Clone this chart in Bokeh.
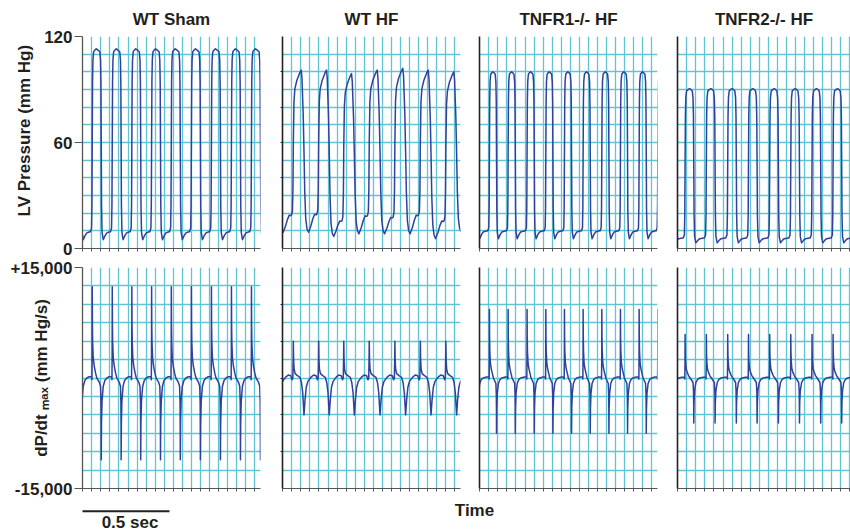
import numpy as np
from bokeh.plotting import figure
from bokeh.layouts import column, row
from bokeh.models import Range1d, FixedTicker, Label
from bokeh.embed import file_html
from bokeh.resources import INLINE

# ---------------- data ----------------
titles = ["WT Sham", "WT HF", "TNFR1-/- HF", "TNFR2-/- HF"]

# time (s) of each systolic pressure peak (first/last beat lie just outside the window)
sham_t = [-0.036, 0.079, 0.194, 0.306, 0.420, 0.533, 0.649, 0.764, 0.879, 0.994, 1.109]
hf_t = [-0.0385, 0.1075, 0.2529, 0.3966, 0.5443, 0.6914, 0.8374, 0.9845, 1.130]
r1_t = [-0.031, 0.0764, 0.1839, 0.2931, 0.4006, 0.5075, 0.6149, 0.7224, 0.8293, 0.9368, 1.0443]
r2_t = [-0.0517, 0.069, 0.1914, 0.3144, 0.4328, 0.5557, 0.6764, 0.7989, 0.9195, 1.0402]

# LV pressure (mm Hg): systolic peak, minimum after the beat, end-diastolic level before the beat
sham_sys = [113, 113, 113, 113, 113, 113, 113, 113, 113, 113, 113]
sham_min = [5, 5, 5, 5, 5, 5, 5, 5, 5, 5, 5]
sham_edp = [9.5, 9.5, 9.5, 9.5, 9.5, 9.5, 9.5, 9.5, 9.5, 9.5, 9.5]
hf_sys = [101, 101, 101, 99, 101, 102, 101, 100, 101]
hf_min = [9.2, 9.2, 6.8, 8.3, 8.3, 8.3, 5.6, 9.6, 9.0]
hf_edp = [18.0, 18.9, 19.4, 15.6, 18.5, 17.6, 18.9, 15.6, 18.0]
r1_sys = [100, 100, 100, 100, 100, 100, 100, 100, 100, 100, 100]
r1_min = [5.5, 5.5, 5.5, 5.5, 5.5, 5.5, 5.5, 5.5, 5.5, 5.5, 5.5]
r1_edp = [10, 10, 10, 10, 10, 10, 10, 10, 10, 10, 10]
r2_sys = [90.5, 90.5, 90.5, 90.5, 90.5, 90.5, 90.5, 90.5, 90.5, 90.5]
r2_min = [3.2, 3.2, 3.2, 3.2, 3.2, 3.2, 3.2, 3.2, 3.2, 3.2]
r2_edp = [6, 6, 6, 6, 6, 6, 6, 6, 6, 6]

# dP/dt (mm Hg/s): max and min of each beat
sham_dmax = [12400, 12400, 12400, 12400, 12400, 12400, 12400, 12400, 12400, 12400, 12400]
sham_dmin = [-11100, -11100, -11100, -11100, -11100, -11100, -11100, -11100, -11100, -11100, -11100]
hf_dmax = [5000, 5000, 5000, 5000, 5000, 5000, 5000, 5000, 5000]
hf_dmin = [-5000, -5000, -5000, -5000, -5000, -5000, -5000, -5000, -5100]
r1_dmax = [9300, 9300, 9300, 9300, 9300, 9300, 9300, 9300, 9300, 9300, 9300]
r1_dmin = [-7500, -7500, -7500, -7500, -7500, -7500, -7500, -7500, -7500, -7500, -7500]
r2_dmax = [5900, 5900, 5900, 5900, 5900, 5900, 5900, 5900, 5900, 5900]
r2_dmin = [-6100, -6100, -6100, -6100, -6100, -6100, -6100, -6100, -6100, -6100]

# phase (fraction of a beat, relative to pressure peak) of max and min dP/dt
sham_phase = (-0.20, 0.25)
hf_phase = (-0.31, 0.11)
r1_phase = (-0.18, 0.20)
r2_phase = (-0.21, 0.20)

p_ticks = [0, 60, 120]
d_ticks = [-15000, 15000]
d_tick_labels = {-15000: "-15,000", 15000: "+15,000"}
p_axis_title = "LV Pressure (mm Hg)"
d_axis_title = "dP/dt \u2098\u2090\u2093 (mm Hg/s)"

# one-beat shapes: (reference, phase offset, segment, fraction)
SHARP_P = [("u", -0.09, "rise", 0.00), ("u", -0.035, "rise", 0.02), ("u", -0.015, "rise", 0.15),
           ("u", 0.00, "rise", 0.50), ("u", 0.015, "rise", 0.82), ("u", 0.035, "rise", 0.94),
           ("u", 0.07, "rise", 0.985), ("p", -0.04, "rise", 0.997), ("p", 0.00, "rise", 1.00),
           ("p", 0.04, "fall", 0.997), ("d", -0.07, "fall", 0.985), ("d", -0.035, "fall", 0.94),
           ("d", -0.015, "fall", 0.82), ("d", 0.00, "fall", 0.50), ("d", 0.015, "fall", 0.18),
           ("d", 0.04, "fall", 0.04), ("d", 0.10, "fall", 0.00), ("d", 0.20, "dia", 0.55),
           ("d", 0.28, "dia", 0.85), ("n", -0.12, "dia", 1.00)]
HF_P = [("u", -0.07, "rise", 0.00), ("u", -0.035, "rise", 0.03), ("u", -0.015, "rise", 0.18),
        ("u", 0.00, "rise", 0.50), ("u", 0.025, "rise", 0.78), ("u", 0.06, "rise", 0.87),
        ("u", 0.14, "rise", 0.93), ("p", -0.06, "rise", 0.98), ("p", 0.00, "rise", 1.00),
        ("p", 0.03, "fall", 0.95), ("d", -0.03, "fall", 0.72), ("d", 0.00, "fall", 0.50),
        ("d", 0.03, "fall", 0.25), ("d", 0.07, "fall", 0.08), ("d", 0.12, "fall", 0.02),
        ("d", 0.18, "fall", 0.00), ("d", 0.27, "dia", 0.35), ("d", 0.35, "dia", 0.75),
        ("d", 0.42, "dia", 1.00), ("n", -0.11, "dia", 0.97)]
SHARP_D = [("u", -0.09, "pos", 0.015), ("u", -0.03, "pos", 0.015), ("u", -0.015, "neg", 0.02),
           ("u", -0.005, "pos", 0.3), ("u", 0.0, "pos", 1.0), ("u", 0.008, "pos", 0.6),
           ("u", 0.02, "pos", 0.4), ("u", 0.05, "pos", 0.22), ("u", 0.10, "pos", 0.13),
           ("u", 0.17, "pos", 0.05), ("p", 0.03, "pos", 0.0), ("d", -0.10, "neg", 0.05),
           ("d", -0.035, "neg", 0.10), ("d", -0.012, "neg", 0.3), ("d", -0.004, "neg", 0.6),
           ("d", 0.0, "neg", 1.0), ("d", 0.012, "neg", 0.55), ("d", 0.04, "neg", 0.28),
           ("d", 0.10, "neg", 0.10), ("d", 0.18, "neg", 0.03), ("d", 0.28, "pos", 0.0),
           ("n", -0.15, "pos", 0.015)]
HF_D = [("u", -0.20, "pos", 0.08), ("u", -0.10, "pos", 0.06), ("u", -0.05, "neg", 0.05),
        ("u", -0.02, "pos", 0.0), ("u", -0.006, "pos", 0.55), ("u", 0.0, "pos", 1.0),
        ("u", 0.012, "pos", 0.5), ("u", 0.03, "pos", 0.25), ("u", 0.07, "pos", 0.12),
        ("u", 0.15, "pos", 0.07), ("d", -0.16, "pos", 0.02), ("d", -0.10, "neg", 0.12),
        ("d", -0.05, "neg", 0.4), ("d", 0.0, "neg", 1.0), ("d", 0.04, "neg", 0.6),
        ("d", 0.09, "neg", 0.25), ("d", 0.15, "neg", 0.10), ("d", 0.22, "neg", 0.03),
        ("d", 0.30, "pos", 0.04)]

panels = [
    dict(t=sham_t, sys=sham_sys, mn=sham_min, ed=sham_edp, dmax=sham_dmax, dmin=sham_dmin,
         ph=sham_phase, tp=SHARP_P, td=SHARP_D),
    dict(t=hf_t, sys=hf_sys, mn=hf_min, ed=hf_edp, dmax=hf_dmax, dmin=hf_dmin,
         ph=hf_phase, tp=HF_P, td=HF_D),
    dict(t=r1_t, sys=r1_sys, mn=r1_min, ed=r1_edp, dmax=r1_dmax, dmin=r1_dmin,
         ph=r1_phase, tp=SHARP_P, td=SHARP_D),
    dict(t=r2_t, sys=r2_sys, mn=r2_min, ed=r2_edp, dmax=r2_dmax, dmin=r2_dmin,
         ph=r2_phase, tp=SHARP_P, td=SHARP_D),
]


def build(times, templ, u, d, level):
    t = np.asarray(times, float)
    n = len(t)
    ref = {"u": u, "p": 0.0, "d": d, "n": 1.0 + u}
    xs, ys = [], []
    for i in range(n):
        tb = t[i] - t[i - 1] if i > 0 else t[1] - t[0]
        ta = t[i + 1] - t[i] if i < n - 1 else t[-1] - t[-2]
        for r, off, kind, frac in templ:
            ph = ref[r] + off
            xs.append(t[i] + ph * (tb if ph < 0 else ta))
            ys.append(level(i, kind, frac))
    return xs, ys


def pressure(pn):
    pk, mn, ed = pn["sys"], pn["mn"], pn["ed"]
    n = len(pk)

    def f(i, kind, frac):
        if kind == "rise":
            return ed[i] + frac * (pk[i] - ed[i])
        if kind == "fall":
            return mn[i] + frac * (pk[i] - mn[i])
        return mn[i] + frac * (ed[min(i + 1, n - 1)] - mn[i])
    return build(pn["t"], pn["tp"], pn["ph"][0], pn["ph"][1], f)


def dpdt(pn):
    def f(i, kind, frac):
        return frac * (pn["dmax"][i] if kind == "pos" else pn["dmin"][i])
    return build(pn["t"], pn["td"], pn["ph"][0], pn["ph"][1], f)


# ---------------- styling / layout ----------------
PX_PER_S = 174.0
FRAME_W = [178, 178, 178, 173]
B_LEFT = [82, 10, 10, 10]
B_RIGHT = [12, 9, 10, 0]
TOP_H, TOP_BT, TOP_BB = 258, 35, 10
BOT_H, BOT_BT, BOT_BB = 240, 9, 10
STRIP_H = 34
GRID = "#5fc5d4"
TRACE = "#30419b"
INK = "#231f20"
FONT = "Liberation Sans"
vgrid = [0.054 + k * 0.0519 for k in range(19)]
p_hgrid = list(range(0, 120, 10))
d_hgrid = list(range(-15000, 15000, 2500))
NB = "\u00a0"


def panel(c, top):
    xr = Range1d(0, FRAME_W[c] / PX_PER_S)
    yr = Range1d(0, 120) if top else Range1d(-15000, 15000)
    p = figure(width=B_LEFT[c] + FRAME_W[c] + B_RIGHT[c], height=TOP_H if top else BOT_H,
               x_range=xr, y_range=yr, toolbar_location=None, output_backend="svg",
               min_border_left=B_LEFT[c], min_border_right=B_RIGHT[c],
               min_border_top=TOP_BT if top else BOT_BT,
               min_border_bottom=TOP_BB if top else BOT_BB)
    p.outline_line_color = None
    p.background_fill_color = "white"
    p.border_fill_color = "white"
    p.xgrid.ticker = FixedTicker(ticks=vgrid)
    p.ygrid.ticker = FixedTicker(ticks=p_hgrid if top else d_hgrid)
    p.grid.grid_line_color = GRID
    p.xgrid.grid_line_width = 1.3
    p.ygrid.grid_line_width = 1.6

    xa = p.xaxis[0]
    xa.ticker = FixedTicker(ticks=[0] + vgrid)
    xa.major_label_overrides = {v: "" for v in [0] + vgrid}
    xa.major_label_text_font_size = "1px"
    xa.major_label_standoff = 0
    xa.major_tick_out = 3
    xa.major_tick_in = 0
    xa.minor_tick_line_color = None
    xa.axis_line_color = "#555555"
    xa.major_tick_line_color = "#555555"
    xa.axis_line_width = 1.2

    ya = p.yaxis[0]
    ya.minor_tick_line_color = None
    ya.major_tick_in = 0
    if c == 0:
        ya.ticker = FixedTicker(ticks=p_ticks if top else d_ticks)
        if not top:
            ya.major_label_overrides = d_tick_labels
        ya.major_tick_out = 8
        ya.major_label_standoff = 2
        ya.major_label_text_font = FONT
        ya.major_label_text_font_style = "bold"
        ya.major_label_text_font_size = "17px"
        ya.major_label_text_color = INK
        ya.axis_line_color = "#555555"
        ya.major_tick_line_color = "#555555"
        ya.axis_line_width = 1.3
        ya.axis_label = (NB * 5 + p_axis_title) if top else d_axis_title
        ya.axis_label_standoff = 7 if top else -43
        ya.axis_label_text_font = FONT
        ya.axis_label_text_font_style = "bold"
        ya.axis_label_text_font_size = "17px"
        ya.axis_label_text_color = INK
    else:
        ticks = [40, 60, 80, 100] if top else [-10000, -5000, 0, 5000, 10000]
        ya.ticker = FixedTicker(ticks=ticks)
        ya.major_label_overrides = {v: "" for v in ticks}
        ya.major_label_text_font_size = "1px"
        ya.major_label_standoff = 0
        ya.major_tick_out = 2 if c == 1 else 0
        ya.axis_line_color = "#222222"
        ya.major_tick_line_color = "#222222"
        ya.axis_line_width = 1.6

    pn = panels[c]
    xs, ys = pressure(pn) if top else dpdt(pn)
    p.line(xs, ys, line_color=TRACE, line_width=1.5, line_join="round")

    if top:
        p.title.text = titles[c]
        p.title.align = "center"
        p.title.text_font = FONT
        p.title.text_font_style = "bold"
        p.title.text_font_size = "17px"
        p.title.text_color = INK
        p.title.standoff = 15
    return p


top_row = row(*[panel(c, True) for c in range(4)], spacing=0)
bot_row = row(*[panel(c, False) for c in range(4)], spacing=0)

# strip below the panels: time scale bar and axis title, same time scale as the panels
strip = figure(width=850, height=STRIP_H, x_range=Range1d(-82 / PX_PER_S, 768 / PX_PER_S),
               y_range=Range1d(STRIP_H, 0), x_axis_type=None, y_axis_type=None,
               toolbar_location=None, output_backend="svg",
               min_border_left=0, min_border_right=0, min_border_top=0, min_border_bottom=0)
strip.outline_line_color = None
strip.line([0, 0.5], [12.7, 12.7], line_color=INK, line_width=2)
for x, y, txt in [(0.273, 23.5, "0.5 sec"), (392 / PX_PER_S, 11.5, "Time")]:
    strip.add_layout(Label(x=x, y=y, text=txt, text_align="center", text_baseline="middle",
                           text_font=FONT, text_font_style="bold", text_font_size="17px",
                           text_color=INK))

layout = column(top_row, bot_row, strip, spacing=0)
open("out.html", "w").write(file_html(layout, INLINE))
